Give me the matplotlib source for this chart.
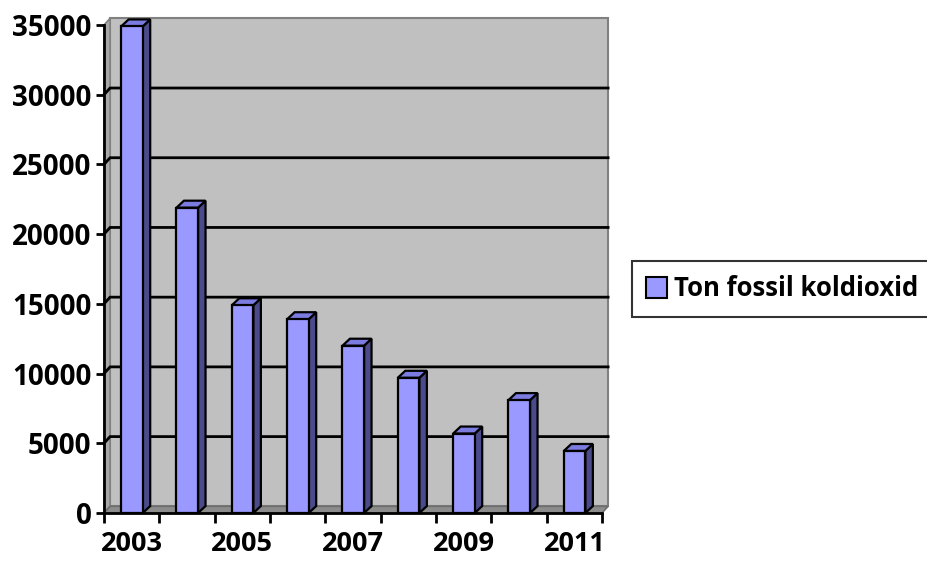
import numpy as np
import matplotlib.pyplot as plt
from matplotlib.patches import Polygon, Rectangle, Patch

# CO2 data (ton fossil koldioxid per year)
years = ['2003', '2004', '2005', '2006', '2007', '2008', '2009', '2010', '2011']
values = [34900, 21900, 14900, 13900, 12000, 9700, 5700, 8100, 4450]
yticks = [0, 5000, 10000, 15000, 20000, 25000, 30000, 35000]
series_name = 'Ton fossil koldioxid'

# colours for the fake 3D look
front_col = '#9999FF'
side_col = '#4B4B8C'
top_col = '#7B7BE0'
wall_col = '#C0C0C0'
floor_col = '#8C8C8C'
sidewall_col = '#A8A8A8'

plt.rcParams['font.family'] = ['Open Sans', 'DejaVu Sans']

fig = plt.figure(figsize=(9.28, 5.62), dpi=100)
ax = fig.add_axes([104/928, 1-513/562, 498/928, 488/562])

n = len(years)
xmin, xmax = -0.5, n - 0.5
ymax = 35000
DX, DY = 0.11, 480        # depth of the walls
bdx, bdy = 0.135, 500     # depth of the bars
bw = 0.39                 # width of front face

# back wall
ax.add_patch(Rectangle((xmin + DX, DY), xmax - xmin, ymax, facecolor=wall_col,
                       edgecolor='#808080', lw=1.5, clip_on=False, zorder=1))
# left wall
ax.add_patch(Polygon([(xmin, 0), (xmin + DX, DY), (xmin + DX, ymax + DY), (xmin, ymax)],
                     closed=True, facecolor=sidewall_col, edgecolor='#808080', lw=1.2,
                     clip_on=False, zorder=1))
# floor
ax.add_patch(Polygon([(xmin, 0), (xmax, 0), (xmax + DX, DY), (xmin + DX, DY)],
                     closed=True, facecolor=floor_col, edgecolor='#6E6E6E', lw=1.2,
                     clip_on=False, zorder=1))

# gridlines on left and back wall
for v in yticks[1:-1]:
    ax.plot([xmin, xmin + DX, xmax + DX], [v, v + DY, v + DY], color='black',
            lw=2, clip_on=False, zorder=2)

# bars
for i, v in enumerate(values):
    x0 = i - 0.19
    x1 = x0 + bw
    ax.add_patch(Polygon([(x1, 0), (x1 + bdx, bdy), (x1 + bdx, v + bdy), (x1, v)],
                         closed=True, facecolor=side_col, edgecolor='black', lw=1.6,
                         clip_on=False, zorder=3))
    ax.add_patch(Polygon([(x0, v), (x1, v), (x1 + bdx, v + bdy), (x0 + bdx, v + bdy)],
                         closed=True, facecolor=top_col, edgecolor='black', lw=1.6,
                         clip_on=False, zorder=3))
    ax.add_patch(Rectangle((x0, 0), bw, v, facecolor=front_col, edgecolor='black',
                           lw=1.6, clip_on=False, zorder=4))

ax.set_xlim(xmin, xmax)
ax.set_ylim(0, ymax)
ax.set_facecolor('none')

for s in ['top', 'right']:
    ax.spines[s].set_visible(False)
for s in ['left', 'bottom']:
    ax.spines[s].set_linewidth(2)
    ax.spines[s].set_zorder(5)

ax.set_yticks(yticks)
ax.set_yticklabels([str(t) for t in yticks], fontsize=20, fontweight='bold')
ax.tick_params(axis='y', length=6, width=2, pad=3)

# category boundaries as major ticks, year labels as minor ticks
ax.set_xticks(np.arange(xmin, xmax + 0.01, 1.0))
ax.set_xticklabels([])
ax.tick_params(axis='x', which='major', length=7, width=2)
ax.set_xticks(np.arange(0, n, 2), minor=True)
ax.set_xticklabels([years[i] for i in range(0, n, 2)], minor=True,
                   fontsize=19.5, fontweight='bold')
ax.tick_params(axis='x', which='minor', length=0, pad=13)

leg = fig.legend(handles=[Patch(facecolor=front_col, edgecolor='black', lw=1.5)],
                 labels=[series_name], loc='center left',
                 bbox_to_anchor=(632/928, 1-289/562), frameon=True, fancybox=False,
                 edgecolor='black', handlelength=0.8, handleheight=0.9,
                 handletextpad=0.3, borderpad=0.55, borderaxespad=0,
                 prop={'size': 18.5, 'weight': 'bold'})
leg.get_frame().set_linewidth(1.5)

fig.savefig('out.png', dpi=100)
